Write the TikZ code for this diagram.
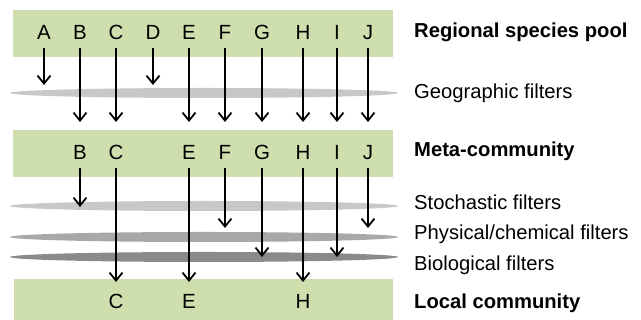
\documentclass[tikz,border=0pt]{standalone}
\usepackage{fontspec}
\setmainfont{Liberation Sans}
\usetikzlibrary{arrows.meta}
\definecolor{bandgreen}{RGB}{206,222,172}
\definecolor{filtA}{RGB}{200,200,200}
\definecolor{filtB}{RGB}{168,168,168}
\definecolor{filtC}{RGB}{138,138,138}
\tikzset{
  band/.style={fill=bandgreen, draw=none},
  filt/.style={draw=none},
  letter/.style={anchor=base, inner xsep=0pt, inner ysep=8pt, font=\fontsize{20.5}{24}\selectfont},
  lbl/.style={anchor=base west, inner sep=0pt, font=\fontsize{20.2}{24}\selectfont},
  blbl/.style={lbl, font=\fontsize{20.2}{24}\selectfont\bfseries},
  arr/.style={line width=1.8pt, -{Straight Barb[length=8pt,width=13pt,line width=1.8pt]}}
}
\begin{document}
\begin{tikzpicture}[x=1pt,y=1pt]
\useasboundingbox (0,0) rectangle (641,320);
% bands
\fill[band] (13,263) rectangle (393,310);
\fill[band] (13,143) rectangle (393,190);
\fill[band] (14,0) rectangle (393,41);
% filters
\fill[filt, filtA] (204,227) ellipse [x radius=194, y radius=5];
\fill[filt, filtA] (204,114) ellipse [x radius=194, y radius=5];
\fill[filt, filtB] (204,83) ellipse [x radius=194, y radius=5];
\fill[filt, filtC] (204,63) ellipse [x radius=194, y radius=5];
% top row letters
\foreach \n/\x in {A/44,B/80,C/116,D/153,E/189,F/225,G/262,H/303,I/337,J/368}{
  \node[letter] (t\n) at (\x,280) {\n};
}
% meta row letters
\foreach \n/\x in {B/80,C/116,E/189,F/225,G/262,H/303,I/337,J/368}{
  \node[letter] (m\n) at (\x,160) {\n};
}
% local row letters
\foreach \n/\x in {C/116,E/189,H/303}{
  \node[letter] (l\n) at (\x,11) {\n};
}
% arrow end points
\coordinate (eA) at (44,235);
\coordinate (eD) at (153,235);
\foreach \n/\x in {B/80,C/116,E/189,F/225,G/262,H/303,I/337,J/368}{
  \coordinate (e\n) at (\x,198);
}
\coordinate (fB) at (80,113);
\coordinate (fF) at (225,92);
\coordinate (fJ) at (368,92);
\coordinate (fG) at (262,63);
\coordinate (fI) at (337,63);
\coordinate (fC) at (116,38);
\coordinate (fE) at (189,38);
\coordinate (fH) at (303,38);
% arrows top
\foreach \n in {A,B,C,D,E,F,G,H,I,J}{
  \draw[arr] (t\n.south) -- (e\n);
}
% arrows meta
\foreach \n in {B,C,E,F,G,H,I,J}{
  \draw[arr] (m\n.south) -- (f\n);
}
% labels
\node[blbl] (l1) at (414,282.7) {Regional species pool};
\node[lbl]  (l2) at (414,221.7) {Geographic filters};
\node[blbl] (l3) at (414,163.3) {Meta-community};
\node[lbl]  (l4) at (414,110.7) {Stochastic filters};
\node[lbl]  (l5) at (414,80) {Physical/chemical filters};
\node[lbl]  (l6) at (414,49.3) {Biological filters};
\node[blbl] (l7) at (414,11) {Local community};
\end{tikzpicture}
\end{document}
